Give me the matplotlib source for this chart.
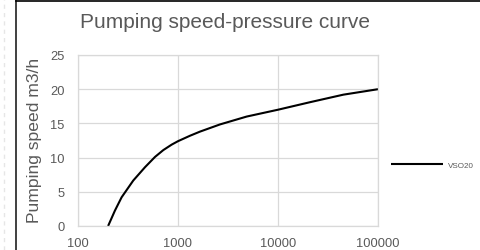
import matplotlib
matplotlib.use("Agg")
import matplotlib.pyplot as plt
from matplotlib.lines import Line2D

plt.rcParams['font.family'] = ['Liberation Sans', 'DejaVu Sans']

# Data
pressure = [200, 234, 273, 357, 468, 589, 713, 865, 1000, 1320, 1660, 2630, 4860, 10000, 20900, 45000, 100000]
speed = [0, 2.25, 4.2, 6.65, 8.6, 10.1, 11.1, 11.9, 12.4, 13.2, 13.8, 14.85, 16.0, 17.0, 18.1, 19.2, 20.0]
x_ticks = [100, 1000, 10000, 100000]
x_tick_labels = ["100", "1000", "10000", "100000"]
y_ticks = [0, 5, 10, 15, 20, 25]
series_name = "VSO20"
title = "Pumping speed-pressure curve"
y_label = "Pumping speed m3/h"

W, H = 480, 251
fig = plt.figure(figsize=(W / 100, H / 100), dpi=100)
fig.patch.set_facecolor("white")

ax = fig.add_axes([78 / W, 1 - 227 / H, 300 / W, 171 / H])
ax.plot(pressure, speed, color="black", linewidth=1.5, label=series_name, solid_capstyle="butt")
ax.set_xscale("log")
ax.set_xlim(100, 100000)
ax.set_ylim(0, 25)
ax.set_xticks(x_ticks)
ax.set_xticklabels(x_tick_labels)
ax.xaxis.set_minor_locator(matplotlib.ticker.NullLocator())
ax.set_yticks(y_ticks)
grid_c = "#d9d9d9"
ax.grid(True, color=grid_c, linewidth=0.9)
ax.set_axisbelow(True)
for s in ax.spines.values():
    s.set_color(grid_c)
    s.set_linewidth(0.9)
ax.tick_params(axis="both", length=0, labelsize=9.3, labelcolor="#595959")
ax.tick_params(axis="y", pad=9.5)
ax.tick_params(axis="x", pad=8)

fig.text(224.5 / W, 1 - 28.5 / H, title, ha="center", va="baseline", fontsize=15, color="#595959")
fig.text(34.5 / W, 1 - 140 / H, y_label, ha="center", va="center", rotation=90, fontsize=12.6, color="#595959")

leg = ax.legend(loc="center left", bbox_to_anchor=(390.7 / W, 1 - 165.7 / H),
                bbox_transform=fig.transFigure, frameon=False, fontsize=5.8,
                handlelength=6.5, handletextpad=0.65, borderpad=0, borderaxespad=0)
for t in leg.get_texts():
    t.set_color("#595959")

# surrounding frame from screenshot
fig.add_artist(Line2D([16 / W, 16 / W], [0, 1 - 1 / H], transform=fig.transFigure, color="#404040", linewidth=1.4))
fig.add_artist(Line2D([16 / W, 1], [1 - 1.5 / H, 1 - 1.5 / H], transform=fig.transFigure, color="black", linewidth=1.2))
fig.add_artist(Line2D([3.5 / W, 3.5 / W], [0, 1], transform=fig.transFigure, color="#e6e6e6", linewidth=1, linestyle=(0, (3, 3))))

fig.savefig("out.png", dpi=100, facecolor="white")
